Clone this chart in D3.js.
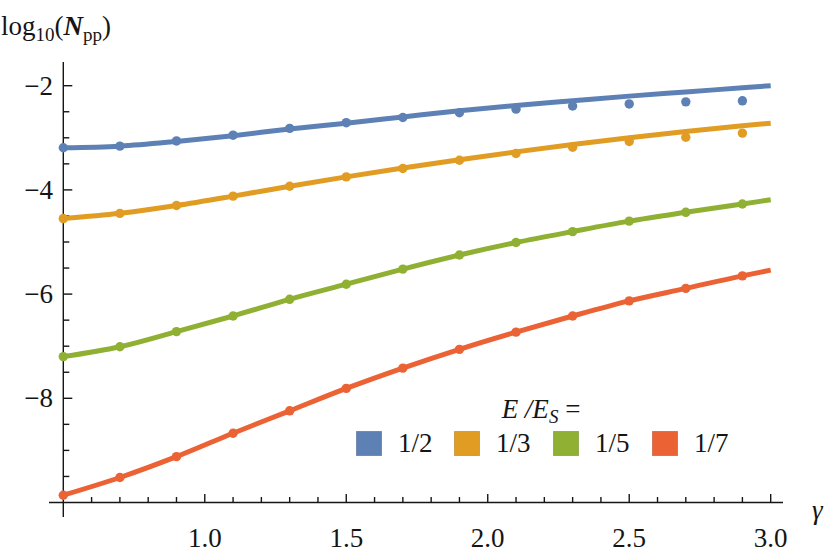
<!DOCTYPE html>
<html><head><meta charset="utf-8">
<script src="https://cdn.jsdelivr.net/npm/d3@7"></script>
<style>
html,body{margin:0;padding:0;background:#fff;}
</style></head>
<body>
<svg id="c" width="830" height="555" font-family="'Liberation Serif', 'Times New Roman', serif"></svg>
<script>
// ---- data ----
const seriesNames = ["1/2", "1/3", "1/5", "1/7"];
const colors = ["#5E81B5", "#E19C24", "#8FB032", "#EB6235"];
const pointGamma = [0.5, 0.7, 0.9, 1.1, 1.3, 1.5, 1.7, 1.9, 2.1, 2.3, 2.5, 2.7, 2.9];
const lineGamma  = [0.5, 0.7, 0.9, 1.1, 1.3, 1.5, 1.7, 1.9, 2.1, 2.3, 2.5, 2.7, 2.9, 3.0];
// fitted curves (solid lines)
const line_1_2 = [-3.19, -3.16, -3.07, -2.96, -2.83, -2.72, -2.60, -2.48, -2.38, -2.29, -2.20, -2.12, -2.04, -2.00];
const line_1_3 = [-4.55, -4.45, -4.30, -4.12, -3.93, -3.75, -3.58, -3.42, -3.27, -3.13, -3.00, -2.88, -2.77, -2.72];
const line_1_5 = [-7.20, -7.01, -6.72, -6.42, -6.10, -5.81, -5.52, -5.25, -5.01, -4.80, -4.60, -4.43, -4.27, -4.19];
const line_1_7 = [-9.86, -9.52, -9.12, -8.67, -8.24, -7.81, -7.42, -7.06, -6.73, -6.42, -6.13, -5.89, -5.65, -5.54];
// numerical points
const pts_1_2 = [-3.19, -3.16, -3.06, -2.95, -2.82, -2.71, -2.61, -2.52, -2.45, -2.39, -2.35, -2.31, -2.29];
const pts_1_3 = [-4.55, -4.45, -4.30, -4.12, -3.93, -3.75, -3.59, -3.43, -3.30, -3.18, -3.07, -2.99, -2.91];
const pts_1_5 = [-7.20, -7.01, -6.72, -6.42, -6.10, -5.81, -5.52, -5.25, -5.01, -4.80, -4.60, -4.43, -4.27];
const pts_1_7 = [-9.86, -9.52, -9.12, -8.67, -8.24, -7.81, -7.42, -7.06, -6.73, -6.42, -6.13, -5.89, -5.65];
const xMajorTicks = [1.0, 1.5, 2.0, 2.5, 3.0];
const xMinorTicks = [0.6,0.7,0.8,0.9,1.1,1.2,1.3,1.4,1.6,1.7,1.8,1.9,2.1,2.2,2.3,2.4,2.6,2.7,2.8,2.9];
const yMajorTicks = [-2, -4, -6, -8];
const yMinorTicks = [-2.5,-3,-3.5,-4.5,-5,-5.5,-6.5,-7,-7.5,-8.5,-9,-9.5];

const lines = [line_1_2, line_1_3, line_1_5, line_1_7];
const points = [pts_1_2, pts_1_3, pts_1_5, pts_1_7];

// ---- layout ----
const svg = d3.select("#c");
const x = d3.scaleLinear().domain([0.5, 3.0]).range([63.3, 770.7]);
const y = d3.scaleLinear().domain([-10, -2]).range([502.5, 85.7]);
const x0 = x(0.5), y0 = y(-10);
const fs = 27, fsSub = 19;
const ink = "#151515";

// axes lines
const ax = svg.append("g").attr("stroke", ink).attr("stroke-width", 1.4);
ax.append("line").attr("x1", 49).attr("x2", 783).attr("y1", y0).attr("y2", y0);
ax.append("line").attr("x1", x0).attr("x2", x0).attr("y1", 62).attr("y2", 517);

// x ticks
ax.selectAll(".xM").data(xMajorTicks).join("line")
  .attr("x1", d => x(d)).attr("x2", d => x(d)).attr("y1", y0).attr("y2", y0 - 8.5);
ax.selectAll(".xm").data(xMinorTicks).join("line")
  .attr("x1", d => x(d)).attr("x2", d => x(d)).attr("y1", y0).attr("y2", y0 - 5.5);
// y ticks
ax.selectAll(".yM").data(yMajorTicks).join("line")
  .attr("y1", d => y(d)).attr("y2", d => y(d)).attr("x1", x0).attr("x2", x0 + 9);
ax.selectAll(".ym").data(yMinorTicks).join("line")
  .attr("y1", d => y(d)).attr("y2", d => y(d)).attr("x1", x0).attr("x2", x0 + 6);

// tick labels
svg.selectAll(".xl").data(xMajorTicks).join("text")
  .attr("x", d => x(d)).attr("y", 547).attr("text-anchor", "middle").attr("fill", ink)
  .attr("font-size", fs).text(d => d.toFixed(1));
svg.selectAll(".yl").data(yMajorTicks).join("text")
  .attr("x", 53).attr("y", d => y(d)).attr("dy", "0.34em").attr("text-anchor", "end").attr("fill", ink)
  .attr("font-size", fs).text(d => "\u2212" + Math.abs(d));

// axis titles
const yt = svg.append("text").attr("x", 1).attr("y", 35).attr("font-size", fs).attr("fill", ink);
yt.append("tspan").text("log");
yt.append("tspan").attr("font-size", fsSub).attr("dy", 6).text("10");
yt.append("tspan").attr("dy", -6).text("(");
yt.append("tspan").attr("font-style", "italic").attr("font-weight", "bold").text("N");
yt.append("tspan").attr("font-size", fsSub).attr("dy", 6).text("pp");
yt.append("tspan").attr("dy", -6).text(")");

svg.append("text").attr("x", 812).attr("y", 519).attr("font-size", fs).attr("fill", ink)
  .attr("font-style", "italic").text("\u03B3");

// series
const lineGen = d3.line().x((d, i) => x(lineGamma[i])).y(d => y(d)).curve(d3.curveMonotoneX);
const plot = svg.append("g");
lines.forEach((ln, k) => {
  plot.append("path").datum(ln).attr("d", lineGen)
    .attr("fill", "none").attr("stroke", colors[k]).attr("stroke-width", 5)
    .attr("stroke-linecap", "butt").attr("stroke-linejoin", "round");
});
points.forEach((p, k) => {
  plot.append("g").selectAll("circle").data(p).join("circle")
    .attr("cx", (d, i) => x(pointGamma[i])).attr("cy", d => y(d))
    .attr("r", 4.7).attr("fill", colors[k]);
});

// legend
const lt = svg.append("text").attr("x", 541).attr("y", 418).attr("text-anchor", "middle")
  .attr("font-size", fs).attr("font-style", "italic").attr("fill", ink);
lt.append("tspan").text("E /E");
lt.append("tspan").attr("font-size", fsSub).attr("dy", 5).text("S");
lt.append("tspan").attr("dy", -5).attr("font-style", "normal").text(" =");

const legX = [356, 454, 553, 652];
const lg = svg.append("g").selectAll("g").data(seriesNames).join("g")
  .attr("transform", (d, i) => `translate(${legX[i]},431)`);
lg.append("rect").attr("x", 0.5).attr("y", 0.5).attr("width", 25).attr("height", 24)
  .attr("fill", (d, i) => colors[i])
  .attr("stroke", (d, i) => d3.color(colors[i]).darker(0.6)).attr("stroke-opacity", 0.6)
  .attr("stroke-width", 1);
lg.append("text").attr("x", 42).attr("y", 21).attr("font-size", fs).attr("fill", ink).text(d => d);
</script>
</body></html>
